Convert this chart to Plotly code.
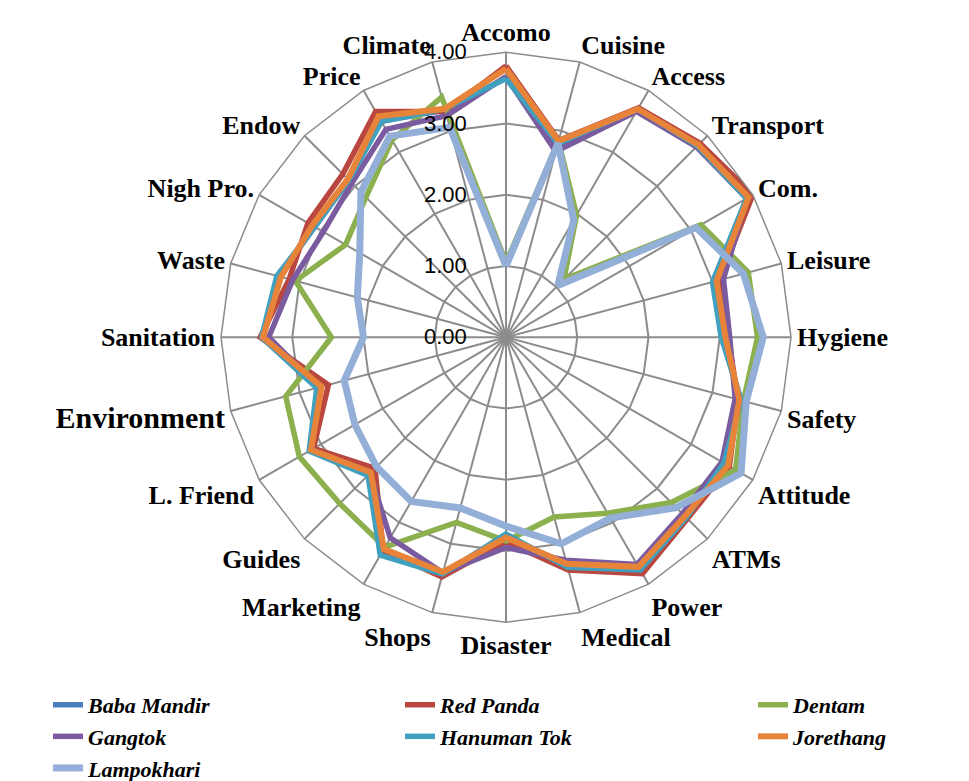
import plotly.graph_objects as go

categories = ["Accomo", "Cuisine", "Access", "Transport", "Com.", "Leisure", "Hygiene",
              "Safety", "Attitude", "ATMs", "Power", "Medical", "Disaster", "Shops",
              "Marketing", "Guides", "L. Friend", "Environment", "Sanitation", "Waste",
              "Nigh Pro.", "Endow", "Price", "Climate"]

baba_mandir = [3.64, 2.80, 3.68, 3.80, 3.90, 3.02, 3.04, 3.40, 3.55, 3.56, 3.74, 3.30,
               2.80, 3.42, 3.48, 2.70, 3.17, 2.72, 3.42, 3.30, 3.10, 3.12, 3.50, 3.30]
red_panda = [3.81, 2.86, 3.72, 3.85, 4.00, 3.10, 3.12, 3.37, 3.62, 3.60, 3.83, 3.38,
             2.87, 3.48, 3.45, 2.60, 3.12, 2.58, 3.45, 3.15, 3.21, 3.24, 3.66, 3.28]
dentam = [1.05, 2.85, 1.98, 1.15, 3.16, 3.52, 3.53, 3.45, 3.72, 3.28, 2.85, 2.61,
          2.86, 2.69, 3.40, 3.30, 3.35, 3.20, 2.45, 3.06, 2.60, 2.78, 3.20, 3.49]
gangtok = [3.66, 2.70, 3.66, 3.78, 3.90, 3.16, 3.14, 3.33, 3.50, 3.50, 3.68, 3.24,
           2.95, 3.42, 3.25, 2.70, 3.15, 2.72, 3.33, 3.10, 2.96, 3.06, 3.37, 3.22]
hanuman_tok = [3.63, 2.82, 3.70, 3.80, 3.90, 3.00, 3.02, 3.42, 3.53, 3.58, 3.77, 3.34,
               2.76, 3.44, 3.53, 2.74, 3.19, 2.75, 3.43, 3.33, 3.10, 3.12, 3.50, 3.32]
jorethang = [3.77, 2.85, 3.70, 3.82, 3.93, 3.06, 3.08, 3.39, 3.60, 3.55, 3.72, 3.29,
             2.81, 3.41, 3.43, 2.68, 3.16, 2.68, 3.41, 3.27, 3.14, 3.14, 3.58, 3.32]
lampokhari = [1.00, 2.82, 1.90, 1.03, 3.08, 3.45, 3.61, 3.49, 3.81, 3.38, 2.93, 3.00,
              2.65, 2.48, 2.66, 2.57, 2.45, 2.35, 2.00, 2.16, 2.37, 2.88, 3.26, 3.05]

series_names = ["Baba Mandir", "Red Panda", "Dentam", "Gangtok", "Hanuman Tok",
                "Jorethang", "Lampokhari"]
series_values = [baba_mandir, red_panda, dentam, gangtok, hanuman_tok, jorethang, lampokhari]
series_colors = ["#4A7EBB", "#B9473F", "#8DB04E", "#7A5BA0", "#41A0BE", "#E8843A", "#93AFD7"]
series_widths = [5.5, 5.5, 5.5, 5.5, 5.5, 6, 7]
series_legend = ["legend", "legend2", "legend3", "legend", "legend2", "legend3", "legend"]

radial_ticks = [0, 1, 2, 3, 4]
radial_tick_labels = ["0.00", "1.00", "2.00", "3.00", "4.00"]

tick_labels = [c if c != "Environment" else '<span style="font-size:30px">Environment</span>'
               for c in categories]

W, H = 969, 781
cx, cy, R = 498, 342, 296

fig = go.Figure()
for name, vals, col, wd, lg in zip(series_names, series_values, series_colors,
                                   series_widths, series_legend):
    fig.add_trace(go.Scatterpolar(
        r=vals + vals[:1],
        theta=categories + categories[:1],
        mode="lines",
        name=name,
        line=dict(color=col, width=wd),
        legend=lg,
    ))

grid = "#8C8C8C"
legend_font = dict(family="Liberation Serif", size=22, color="black",
                   style="italic", weight="bold")
leg_common = dict(font=legend_font, orientation="v", yanchor="top", xanchor="left",
                  y=1 - 702 / H, bgcolor="rgba(0,0,0,0)", borderwidth=0,
                  tracegroupgap=0, itemwidth=30)

fig.update_layout(
    width=W, height=H,
    margin=dict(l=0, r=0, t=0, b=0),
    paper_bgcolor="white",
    plot_bgcolor="white",
    polar=dict(
        domain=dict(x=[(cx - R) / W, (cx + R) / W], y=[1 - (cy + R) / H, 1 - (cy - R) / H]),
        gridshape="linear",
        bgcolor="white",
        angularaxis=dict(
            type="category",
            categoryarray=categories,
            direction="clockwise",
            rotation=90,
            tickmode="array",
            tickvals=categories,
            ticktext=tick_labels,
            tickfont=dict(family="Liberation Serif", size=26, color="black", weight="bold"),
            showline=True, linecolor=grid, linewidth=1.5,
            showgrid=True, gridcolor=grid, gridwidth=1.5,
            ticks="",
        ),
        radialaxis=dict(
            range=[0, 4],
            tickmode="array",
            tickvals=radial_ticks,
            ticktext=radial_tick_labels,
            angle=90,
            side="counterclockwise",
            tickangle=90,
            showline=False,
            showgrid=True, gridcolor=grid, gridwidth=1.5,
            ticks="outside", ticklen=31, tickcolor="rgba(0,0,0,0)",
            tickfont=dict(family="Liberation Sans", size=22, color="black"),
            layer="above traces",
        ),
    ),
    legend=dict(x=40 / W, **leg_common),
    legend2=dict(x=392 / W, **leg_common),
    legend3=dict(x=745 / W, **leg_common),
)

fig.write_html("out.html")
